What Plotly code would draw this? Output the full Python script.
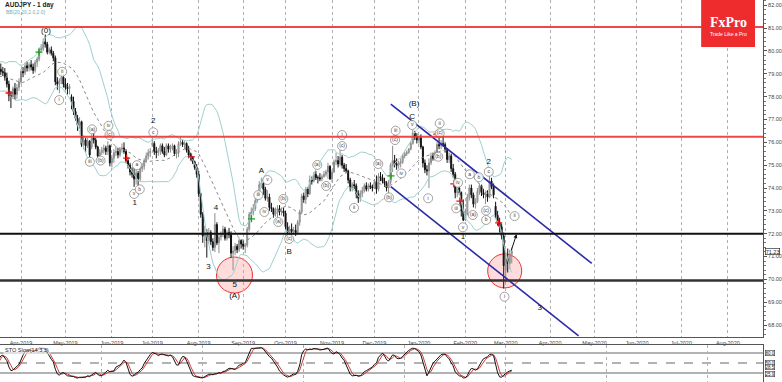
import numpy as np
import pandas as pd
import plotly.graph_objects as go

# ---------------- data (daily AUDJPY bars, first 20 are warm-up bars left of the view) ----------------
first_date = "2019-02-18"
n_warm = 20

open_ = [
    78.90, 78.95, 79.10, 79.35, 78.70, 78.75, 79.15, 78.95, 78.85, 79.05,
    79.35, 79.20, 79.05, 78.80, 78.35, 78.10, 78.45, 78.60, 78.85, 78.90,
    79.20, 79.10, 79.05, 78.85, 78.55, 78.05, 78.00, 78.35, 78.10, 78.40,
    78.65, 79.10, 79.05, 79.35, 79.25, 79.40, 79.30, 79.15, 79.50, 79.65,
    80.05, 80.10, 80.40, 80.30, 79.95, 80.05, 79.90, 79.70, 78.65, 78.55,
    78.70, 78.85, 78.55, 78.40, 78.35, 78.00, 77.80, 77.35, 77.05, 76.75,
    76.90, 75.90, 76.10, 75.85, 76.05, 75.80, 76.20, 76.10, 75.80, 75.40,
    75.55, 75.65, 75.75, 75.60, 75.85, 75.10, 75.30, 75.55, 75.60, 75.45,
    75.70, 75.75, 75.60, 75.20, 75.00, 74.70, 74.60, 74.40, 74.65, 74.40,
    74.85, 74.95, 75.20, 75.40, 75.55, 75.90, 75.95, 75.60, 75.55, 75.65,
    75.85, 75.60, 75.45, 75.85, 75.70, 75.80, 75.85, 75.50, 75.60, 75.95,
    76.00, 75.90, 75.95, 75.65, 75.45, 75.35, 75.15, 74.90, 74.60, 73.75,
    72.85, 71.90, 72.05, 71.70, 72.05, 71.65, 71.40, 72.40, 71.60, 71.85,
    71.95, 72.20, 71.80, 72.05, 71.95, 71.15, 71.25, 71.45, 71.30, 71.70,
    71.55, 71.45, 71.50, 72.20, 72.85, 72.95, 73.10, 73.45, 73.75, 74.15,
    74.20, 73.95, 73.55, 73.60, 73.15, 73.10, 72.85, 72.90, 73.10, 72.95,
    73.00, 72.90, 72.30, 72.05, 72.20, 72.10, 72.15, 72.05, 72.50, 72.95,
    73.65, 73.50, 73.95, 73.75, 74.35, 74.30, 74.60, 74.45, 74.45, 74.40,
    74.50, 74.60, 74.70, 74.95, 74.40, 74.70, 75.15, 75.20, 75.05, 75.35,
    75.00, 74.85, 74.75, 74.35, 74.00, 74.15, 74.10, 73.75, 73.55, 73.75,
    73.90, 74.10, 73.95, 74.10, 74.05, 74.00, 74.25, 73.95, 74.50, 74.45,
    74.30, 74.20, 74.00, 74.25, 75.00, 75.20, 75.05, 75.00, 75.10, 75.15,
    75.40, 75.50, 75.55, 75.70, 75.95, 76.40, 76.25, 76.10, 76.20, 75.80,
    75.10, 74.80, 74.75, 75.10, 75.40, 75.30, 75.55, 75.90, 75.85, 75.95,
    75.90, 75.70, 75.25, 75.40, 74.85, 74.60, 73.80, 74.00, 73.80, 73.00,
    72.60, 72.85, 73.60, 74.00, 73.70, 73.30, 73.40, 73.85, 74.10, 73.80,
    73.70, 73.75, 73.60, 74.30, 74.05, 73.20, 72.80, 72.50, 72.30, 71.90,
    70.40, 70.90, 70.70, 71.10,
]
high = [
    79.10, 79.20, 79.45, 79.45, 78.90, 79.25, 79.20, 79.10, 79.20, 79.55,
    79.45, 79.30, 79.15, 78.90, 78.50, 78.55, 78.70, 78.95, 79.05, 79.25,
    79.45, 79.30, 79.25, 79.05, 78.70, 78.25, 78.45, 78.60, 78.55, 78.80,
    79.20, 79.30, 79.50, 79.55, 79.50, 79.60, 79.45, 79.60, 79.75, 80.15,
    80.30, 80.55, 80.72, 80.40, 80.15, 80.20, 80.00, 79.80, 78.85, 78.80,
    79.05, 79.00, 78.80, 78.60, 78.55, 78.10, 78.00, 77.50, 77.20, 77.10,
    76.95, 76.30, 76.20, 76.20, 76.10, 76.35, 76.45, 76.20, 75.85, 75.70,
    75.80, 75.90, 75.85, 76.05, 75.90, 75.45, 75.70, 75.85, 75.75, 75.80,
    75.95, 76.00, 75.70, 75.35, 75.10, 74.90, 74.90, 74.80, 74.75, 74.95,
    75.10, 75.30, 75.55, 75.70, 75.75, 76.20, 76.05, 75.80, 75.75, 75.95,
    75.95, 75.80, 75.95, 75.95, 75.90, 75.95, 75.90, 75.70, 76.05, 76.25,
    76.10, 76.05, 76.00, 75.85, 75.55, 75.40, 75.20, 75.05, 74.75, 73.80,
    72.95, 72.35, 72.20, 72.25, 72.15, 71.80, 72.90, 72.50, 72.00, 72.10,
    72.35, 72.30, 72.15, 72.25, 72.10, 71.45, 71.60, 71.55, 71.80, 71.75,
    71.70, 71.60, 72.30, 72.95, 73.15, 73.30, 73.55, 73.85, 74.30, 74.45,
    74.25, 74.05, 73.90, 73.75, 73.35, 73.15, 73.15, 73.25, 73.25, 73.15,
    73.15, 73.00, 72.50, 72.35, 72.45, 72.30, 72.40, 72.60, 73.05, 73.75,
    73.80, 74.05, 74.05, 74.55, 74.50, 74.70, 74.75, 74.55, 74.65, 74.60,
    74.75, 74.80, 75.10, 75.00, 74.80, 75.25, 75.55, 75.40, 75.70, 75.45,
    75.10, 75.05, 74.80, 74.45, 74.25, 74.35, 74.20, 73.90, 73.90, 74.05,
    74.20, 74.25, 74.20, 74.25, 74.15, 74.40, 74.55, 74.65, 74.70, 74.60,
    74.45, 74.30, 74.35, 75.10, 75.85, 75.45, 75.30, 75.20, 75.30, 75.50,
    75.60, 75.65, 75.75, 76.05, 76.55, 76.50, 76.40, 76.30, 76.35, 75.85,
    75.25, 75.00, 75.30, 75.55, 75.55, 75.65, 76.00, 76.30, 76.10, 76.25,
    76.00, 75.75, 75.55, 75.50, 75.05, 74.70, 74.05, 74.20, 73.85, 73.50,
    73.10, 73.75, 74.15, 74.15, 73.80, 73.55, 74.00, 74.20, 74.15, 73.95,
    73.85, 73.90, 74.55, 74.45, 74.20, 73.40, 73.00, 72.70, 72.45, 72.05,
    71.20, 71.35, 71.30, 71.40,
]
low = [
    78.75, 78.80, 79.00, 78.40, 78.50, 78.70, 78.80, 78.65, 78.75, 79.00,
    79.10, 78.90, 78.65, 78.15, 77.90, 78.00, 78.35, 78.50, 78.70, 78.80,
    78.95, 78.90, 78.70, 78.40, 77.80, 77.50, 77.90, 77.85, 77.90, 78.25,
    78.55, 78.85, 78.95, 79.10, 79.10, 79.15, 79.00, 79.05, 79.30, 79.55,
    79.95, 80.00, 80.15, 79.85, 79.85, 79.80, 79.55, 78.50, 78.30, 78.15,
    78.55, 78.40, 78.30, 78.10, 78.10, 77.45, 77.20, 76.95, 76.50, 76.60,
    75.80, 75.70, 75.55, 75.75, 75.30, 75.70, 75.95, 75.70, 75.20, 75.30,
    75.45, 75.50, 75.45, 75.45, 74.95, 74.90, 75.10, 75.40, 75.30, 75.35,
    75.55, 75.50, 75.10, 74.85, 74.55, 74.45, 74.05, 74.15, 74.05, 74.30,
    74.70, 74.80, 75.10, 75.25, 75.35, 75.80, 75.45, 75.30, 75.40, 75.45,
    75.50, 75.35, 75.40, 75.55, 75.55, 75.65, 75.40, 75.30, 75.35, 75.85,
    75.80, 75.70, 75.55, 75.30, 75.20, 75.05, 74.80, 74.45, 73.60, 72.70,
    71.60, 71.40, 70.95, 71.55, 71.50, 71.25, 71.20, 71.50, 71.15, 71.70,
    71.85, 71.70, 71.70, 71.80, 70.95, 70.40, 71.05, 71.15, 71.20, 71.35,
    71.30, 71.15, 71.40, 72.10, 72.60, 72.80, 73.00, 73.35, 73.50, 74.00,
    73.70, 73.45, 73.40, 73.00, 72.95, 72.70, 72.75, 72.70, 72.80, 72.80,
    72.75, 72.20, 71.85, 71.75, 71.95, 71.95, 71.90, 72.00, 72.35, 72.85,
    73.35, 73.30, 73.60, 73.70, 74.15, 74.25, 74.35, 74.20, 74.30, 74.30,
    74.45, 74.50, 74.40, 74.35, 74.25, 74.65, 75.00, 74.90, 74.95, 74.85,
    74.70, 74.65, 74.20, 73.85, 73.85, 73.95, 73.55, 73.35, 73.40, 73.60,
    73.80, 73.85, 73.85, 73.95, 73.85, 73.95, 73.75, 73.85, 74.30, 74.20,
    74.05, 73.85, 73.70, 74.15, 74.70, 74.90, 74.80, 74.85, 74.90, 75.05,
    75.30, 75.40, 75.50, 75.65, 75.90, 76.10, 75.95, 75.95, 75.70, 74.90,
    74.65, 74.55, 74.00, 75.00, 75.20, 75.20, 75.45, 75.70, 75.70, 75.80,
    75.55, 75.10, 75.10, 74.70, 74.45, 73.55, 73.60, 73.70, 72.75, 72.55,
    72.55, 72.80, 73.45, 73.55, 73.15, 73.10, 73.35, 73.70, 73.65, 73.55,
    73.30, 73.40, 73.55, 73.95, 73.55, 72.65, 72.35, 72.05, 71.75, 69.60,
    69.85, 70.30, 70.45, 70.70,
]
close = [
    78.95, 79.10, 79.35, 78.70, 78.75, 79.15, 78.95, 78.85, 79.05, 79.35,
    79.20, 79.05, 78.80, 78.35, 78.10, 78.45, 78.60, 78.85, 78.90, 79.20,
    79.10, 79.05, 78.85, 78.55, 78.05, 78.00, 78.35, 78.10, 78.40, 78.65,
    79.10, 79.05, 79.35, 79.25, 79.40, 79.30, 79.15, 79.50, 79.65, 80.05,
    80.10, 80.40, 80.30, 79.95, 80.05, 79.90, 79.70, 78.65, 78.55, 78.70,
    78.85, 78.55, 78.40, 78.35, 78.45, 77.80, 77.35, 77.05, 76.75, 76.90,
    75.90, 76.10, 75.85, 76.05, 75.45, 76.20, 76.10, 75.80, 75.40, 75.55,
    75.65, 75.75, 75.60, 75.85, 75.10, 75.30, 75.55, 75.60, 75.45, 75.70,
    75.75, 75.60, 75.20, 75.00, 74.70, 74.60, 74.40, 74.65, 74.40, 74.85,
    74.95, 75.20, 75.40, 75.55, 75.60, 75.95, 75.60, 75.55, 75.65, 75.85,
    75.60, 75.45, 75.85, 75.70, 75.80, 75.85, 75.50, 75.60, 75.95, 76.00,
    75.90, 75.95, 75.65, 75.45, 75.35, 75.15, 74.90, 74.60, 73.75, 72.85,
    71.90, 72.05, 71.70, 72.05, 71.65, 71.40, 72.40, 71.60, 71.85, 71.95,
    72.20, 71.80, 72.05, 71.95, 71.15, 71.25, 71.45, 71.30, 71.70, 71.55,
    71.45, 71.50, 72.20, 72.85, 72.95, 73.10, 73.45, 73.75, 74.15, 74.20,
    73.95, 73.55, 73.60, 73.15, 73.10, 72.85, 72.90, 73.10, 72.95, 73.00,
    72.90, 72.30, 72.05, 72.20, 72.10, 72.15, 72.05, 72.50, 72.95, 73.65,
    73.50, 73.95, 73.75, 74.35, 74.30, 74.60, 74.45, 74.45, 74.40, 74.50,
    74.60, 74.70, 74.95, 74.40, 74.70, 75.15, 75.20, 75.05, 75.35, 75.00,
    74.85, 74.75, 74.35, 74.00, 74.15, 74.10, 73.75, 73.55, 73.75, 73.90,
    74.10, 73.95, 74.10, 74.05, 74.00, 74.25, 73.95, 74.50, 74.45, 74.30,
    74.20, 74.00, 74.25, 75.00, 75.20, 75.05, 75.00, 75.10, 75.15, 75.40,
    75.50, 75.55, 75.70, 75.95, 76.40, 76.25, 76.10, 76.20, 75.80, 75.10,
    74.80, 74.75, 75.10, 75.40, 75.30, 75.55, 75.90, 75.85, 75.95, 75.90,
    75.70, 75.25, 75.40, 74.85, 74.60, 73.80, 74.00, 73.80, 73.00, 72.60,
    72.85, 73.60, 74.00, 73.70, 73.30, 73.40, 73.85, 74.10, 73.80, 73.70,
    73.75, 73.60, 74.30, 74.05, 73.70, 72.80, 72.50, 72.30, 71.90, 70.60,
    70.90, 70.70, 71.10, 71.23,
]

month_starts = ["2019-04-01", "2019-05-01", "2019-06-03", "2019-07-01", "2019-08-01",
                "2019-09-02", "2019-10-01", "2019-11-01", "2019-12-02", "2020-01-01",
                "2020-02-03", "2020-03-02", "2020-04-01", "2020-05-01", "2020-06-01",
                "2020-07-01", "2020-08-03"]
month_labels = ["Apr-2019", "May-2019", "Jun-2019", "Jul-2019", "Aug-2019", "Sep-2019",
                "Oct-2019", "Nov-2019", "Dec-2019", "Jan-2020", "Feb-2020", "Mar-2020",
                "Apr-2020", "May-2020", "Jun-2020", "Jul-2020", "Aug-2020"]
price_ticks = [68, 69, 70, 71, 72, 73, 74, 75, 76, 77, 78, 79, 80, 81, 82]
stoch_levels = [80.0, 50.0, 20.0]

red_levels = [81.05, 76.25]
black_levels = [72.00, 69.95]
last_price = 71.23

# channel lines (bar index, price)
channel_x0 = [193.1, 193.1]
channel_y0 = [77.67, 74.06]
channel_x1 = [292.6, 286.1]
channel_y1 = [70.70, 67.53]

# highlighted circles (bar index, price)
circle_x = [115.7, 249.5]
circle_y = [70.19, 70.37]

# big wave labels
wave_text = ["(0)", "1", "2", "3", "4", "5", "(A)", "A", "B", "(B)", "C", "1", "2", "3"]
wave_x = [22.35, 66.3, 75.5, 102.8, 106.6, 115.8, 115.7, 129.0, 142.8, 204.6, 203.7, 228.9, 241.6, 266.8]
wave_y = [80.89, 73.33, 76.93, 70.56, 73.14, 69.75, 69.28, 74.75, 71.20, 77.70, 77.12, 71.87, 75.15, 68.73]

# small circled labels
circ_text = ["i", "ii", "iii", "(a)", "(b)", "iv", "(c)", "v", "a", "b", "c",
             "iii", "v", "iv", "(a)", "(b)", "(c)",
             "(a)", "(b)", "(c)", "i", "ii",
             "(a)", "(b)", "iii", "(c)", "iv", "v", "i", "ii", "(c)", "(b)",
             "iv", "iii", "v", "a", "b", "(a)", "c", "(c)", "b", "ii", "i"]
circ_x = [28.9, 30.4, 44.1, 45.2, 49.4, 53.3, 53.8, 66.0, 67.4, 68.8, 75.5,
          127.5, 132.0, 130.5, 137.4, 139.9, 142.8,
          156.7, 161.1, 169.0, 169.0, 174.9,
          186.9, 192.2, 195.5, 195.2, 198.3, 203.7, 211.6, 217.3, 217.3, 216.6,
          226.4, 225.5, 228.8, 232.2, 236.7, 233.7, 241.6, 240.3, 240.3, 254.4, 249.4]
circ_y = [77.85, 79.09, 75.15, 76.57, 75.20, 76.72, 76.32, 73.74, 75.00, 73.94, 76.44,
          73.69, 74.35, 72.95, 72.51, 73.52, 71.77,
          75.01, 74.09, 75.84, 76.32, 73.13,
          75.05, 73.59, 76.51, 76.10, 74.64, 76.76, 73.55, 76.83, 76.40, 75.37,
          74.23, 73.11, 72.28, 74.60, 74.47, 72.82, 74.71, 73.01, 72.60, 72.77, 69.24]

# signal crosses
red_cross_x = [4.1, 62.3, 94.4, 215.9, 224.3, 227.3, 246.5]
red_cross_y = [78.16, 75.31, 75.36, 76.36, 74.18, 73.43, 72.47]
green_cross_x = [18.9, 124.1, 193.2]
green_cross_y = [79.95, 72.65, 74.53]

# forecast arrow (tail -> head)
arrow_x = [252.5, 255.4]
arrow_y = [71.20, 71.98]

assert len(open_) == len(high) == len(low) == len(close), (len(open_), len(high), len(low), len(close))

# ---------------- indicators ----------------
x = np.arange(len(close)) - n_warm
c = pd.Series(close)
h = pd.Series(high)
l = pd.Series(low)
ma = c.rolling(20).mean()
sd = c.rolling(20).std(ddof=0)
bb_up = ma + 2 * sd
bb_dn = ma - 2 * sd
ll = l.rolling(14).min()
hh = h.rolling(14).max()
k_line = 100 * (c - ll).rolling(3).sum() / (hh - ll).rolling(3).sum()
d_line = k_line.rolling(3).mean()

dates = pd.bdate_range(first_date, periods=460)
tickvals = [int(dates.get_loc(pd.Timestamp(m))) - n_warm for m in month_starts]

# ---------------- figure ----------------
fig = go.Figure()
FONT = "Liberation Sans, Arial, sans-serif"
BB_COL = "#9fcfcf"

fig.add_trace(go.Scatter(x=x, y=bb_up, mode="lines", line=dict(color=BB_COL, width=1), hoverinfo="skip"))
fig.add_trace(go.Scatter(x=x, y=bb_dn, mode="lines", line=dict(color=BB_COL, width=1), hoverinfo="skip"))
fig.add_trace(go.Scatter(x=x, y=ma, mode="lines", line=dict(color="#8a8a8a", width=1, dash="dot"), hoverinfo="skip"))

fig.add_trace(go.Candlestick(
    x=x, open=open_, high=high, low=low, close=close,
    increasing=dict(line=dict(color="#8c8c8c", width=1), fillcolor="#cfcfcf"),
    decreasing=dict(line=dict(color="#111111", width=1), fillcolor="#111111"),
    whiskerwidth=0, hoverinfo="skip"))

for i in range(len(channel_x0)):
    fig.add_trace(go.Scatter(x=[channel_x0[i], channel_x1[i]], y=[channel_y0[i], channel_y1[i]],
                             mode="lines", line=dict(color="#2b2ba8", width=1.6), hoverinfo="skip"))

fig.add_trace(go.Scatter(x=red_cross_x, y=red_cross_y, mode="markers",
                         marker=dict(symbol="cross-thin", size=5, line=dict(color="#e01818", width=1.3)),
                         hoverinfo="skip"))
fig.add_trace(go.Scatter(x=green_cross_x, y=green_cross_y, mode="markers",
                         marker=dict(symbol="cross-thin", size=5, line=dict(color="#1aa01a", width=1.3)),
                         hoverinfo="skip"))

fig.add_trace(go.Scatter(x=circ_x, y=circ_y, mode="markers+text", text=circ_text,
                         textposition="middle center",
                         textfont=dict(family=FONT, size=5, color="#444"),
                         marker=dict(symbol="circle", size=9, color="rgba(255,255,255,0.9)",
                                     line=dict(color="#8a8a8a", width=0.8)),
                         hoverinfo="skip"))
fig.add_trace(go.Scatter(x=wave_x, y=wave_y, mode="text", text=wave_text,
                         textposition="middle center",
                         textfont=dict(family=FONT, size=8, color="#111"), hoverinfo="skip"))

# stochastic panel
fig.add_trace(go.Scatter(x=x, y=d_line, mode="lines", line=dict(color="#d03a3a", width=1),
                         xaxis="x2", yaxis="y2", hoverinfo="skip"))
fig.add_trace(go.Scatter(x=x, y=k_line, mode="lines", line=dict(color="#111111", width=1),
                         xaxis="x2", yaxis="y2", hoverinfo="skip"))

shapes = []
for lv in red_levels:
    shapes.append(dict(type="line", xref="paper", x0=0, x1=1, yref="y", y0=lv, y1=lv,
                       line=dict(color="rgba(240,50,50,0.9)", width=2), layer="above"))
for j, lv in enumerate(black_levels):
    shapes.append(dict(type="line", xref="paper", x0=0, x1=1, yref="y", y0=lv, y1=lv,
                       line=dict(color="#111" if j == 0 else "#333", width=2 if j == 0 else 2.5),
                       layer="above"))
radii = [18, 17]
for cx, cy, r in zip(circle_x, circle_y, radii):
    shapes.append(dict(type="circle", xref="x", yref="y", xsizemode="pixel", ysizemode="pixel",
                       xanchor=cx, yanchor=cy, x0=-r, x1=r, y0=-r, y1=r,
                       fillcolor="rgba(255,90,90,0.22)", line=dict(color="#f03030", width=1),
                       layer="below"))
for lv, dash in zip(stoch_levels, ["solid", "dash", "solid"]):
    shapes.append(dict(type="line", xref="paper", x0=0, x1=1, yref="y2", y0=lv, y1=lv,
                       line=dict(color="#666", width=1, dash=dash), layer="below"))
# logo box
shapes.append(dict(type="rect", xref="paper", yref="paper", x0=703 / 765, x1=757 / 765,
                   y0=1 - 47 / 382, y1=1, fillcolor="#ee2b2d", line=dict(width=0), layer="above"))

annotations = [
    dict(text="<b>AUDJPY - 1 day</b>", xref="paper", yref="paper", x=3 / 765, y=1 - 5 / 382,
         xanchor="left", yanchor="middle", showarrow=False, font=dict(family=FONT, size=6.5, color="#222")),
    dict(text="BB(20,20,2.0,2.0)", xref="paper", yref="paper", x=4 / 765, y=1 - 12.5 / 382,
         xanchor="left", yanchor="middle", showarrow=False, font=dict(family=FONT, size=5, color="#6fb0b0")),
    dict(text="STO Slow(14,3,3)", xref="paper", yref="paper", x=3 / 765, y=1 - 350 / 382,
         xanchor="left", yanchor="middle", showarrow=False, bgcolor="rgba(255,255,255,0.6)",
         font=dict(family=FONT, size=5.5, color="#222")),
    dict(text="<b>FxPro</b>", xref="paper", yref="paper", x=730 / 765, y=1 - 22 / 382,
         xanchor="center", yanchor="middle", showarrow=False,
         font=dict(family="Liberation Serif, DejaVu Serif, serif", size=14, color="white")),
    dict(text="Trade Like a Pro", xref="paper", yref="paper", x=730 / 765, y=1 - 34 / 382,
         xanchor="center", yanchor="middle", showarrow=False, font=dict(family=FONT, size=5, color="white")),
    dict(text=f"{last_price:.2f}", xref="paper", yref="y", x=1.003, y=last_price, xanchor="left",
         yanchor="middle", showarrow=False, bgcolor="white", bordercolor="#333", borderwidth=0.7,
         borderpad=0, font=dict(family=FONT, size=5.5, color="#222")),
    dict(x=arrow_x[1], y=arrow_y[1], ax=arrow_x[0], ay=arrow_y[0], xref="x", yref="y",
         axref="x", ayref="y", text="", showarrow=True, arrowhead=2, arrowsize=0.8,
         arrowwidth=1, arrowcolor="#111"),
]
# value boxes on the stochastic scale: levels 80 / 50, and current %K / %D near the bottom
last_k = float(k_line.iloc[-1])
last_d = float(d_line.iloc[-1])
box_vals = [(stoch_levels[0], 0), (stoch_levels[1], 0), (max(last_k, last_d), 3), (min(last_k, last_d), -3)]
for val, shift in box_vals:
    annotations.append(dict(text=f"{val:.1f}", xref="paper", yref="y2", x=1.003, y=val, xanchor="left",
                            yanchor="middle", yshift=shift, showarrow=False, bgcolor="white",
                            bordercolor="#333", borderwidth=0.6, borderpad=0,
                            font=dict(family=FONT, size=4.5, color="#222")))

main_bottom = 1 - 337 / 382
fig.update_layout(
    width=782, height=382, margin=dict(l=0, r=17, t=0, b=0),
    paper_bgcolor="white", plot_bgcolor="white", showlegend=False,
    font=dict(family=FONT, size=6, color="#333"),
    shapes=shapes, annotations=annotations,
    xaxis=dict(domain=[0, 1], range=[-0.4, 377.4], anchor="y", tickvals=tickvals, ticktext=month_labels,
               tickfont=dict(size=5.5, color="#444"), ticks="", showgrid=True, gridcolor="#b0b0b0",
               griddash="dot", gridwidth=1, showline=True, linecolor="#555", linewidth=1,
               zeroline=False, rangeslider=dict(visible=False), fixedrange=True),
    xaxis2=dict(domain=[0, 1], matches="x", anchor="y2", side="top", showticklabels=False, ticks="",
                showgrid=True, gridcolor="#b0b0b0", griddash="dot", gridwidth=1, showline=True,
                linecolor="#555", linewidth=1, zeroline=False),
    yaxis=dict(domain=[main_bottom, 1], range=[67.477, 82.232], side="right", tickvals=price_ticks,
               ticktext=[f"{t:.2f}" for t in price_ticks], ticks="outside", ticklen=3, tickcolor="#555",
               tickfont=dict(size=5.5, color="#444"), showline=True, linecolor="#555", linewidth=1,
               showgrid=False, zeroline=False,
               minor=dict(dtick=0.2, ticks="outside", ticklen=2, tickcolor="#777")),
    yaxis2=dict(domain=[0, 1 - 345 / 382], range=[-7, 104], side="right", showticklabels=False,
                ticks="", showline=True, linecolor="#555", linewidth=1, showgrid=False, zeroline=False),
)

fig.write_html("out.html", include_plotlyjs=True, config={"displayModeBar": False},
               post_script="document.body.style.margin='0';")
